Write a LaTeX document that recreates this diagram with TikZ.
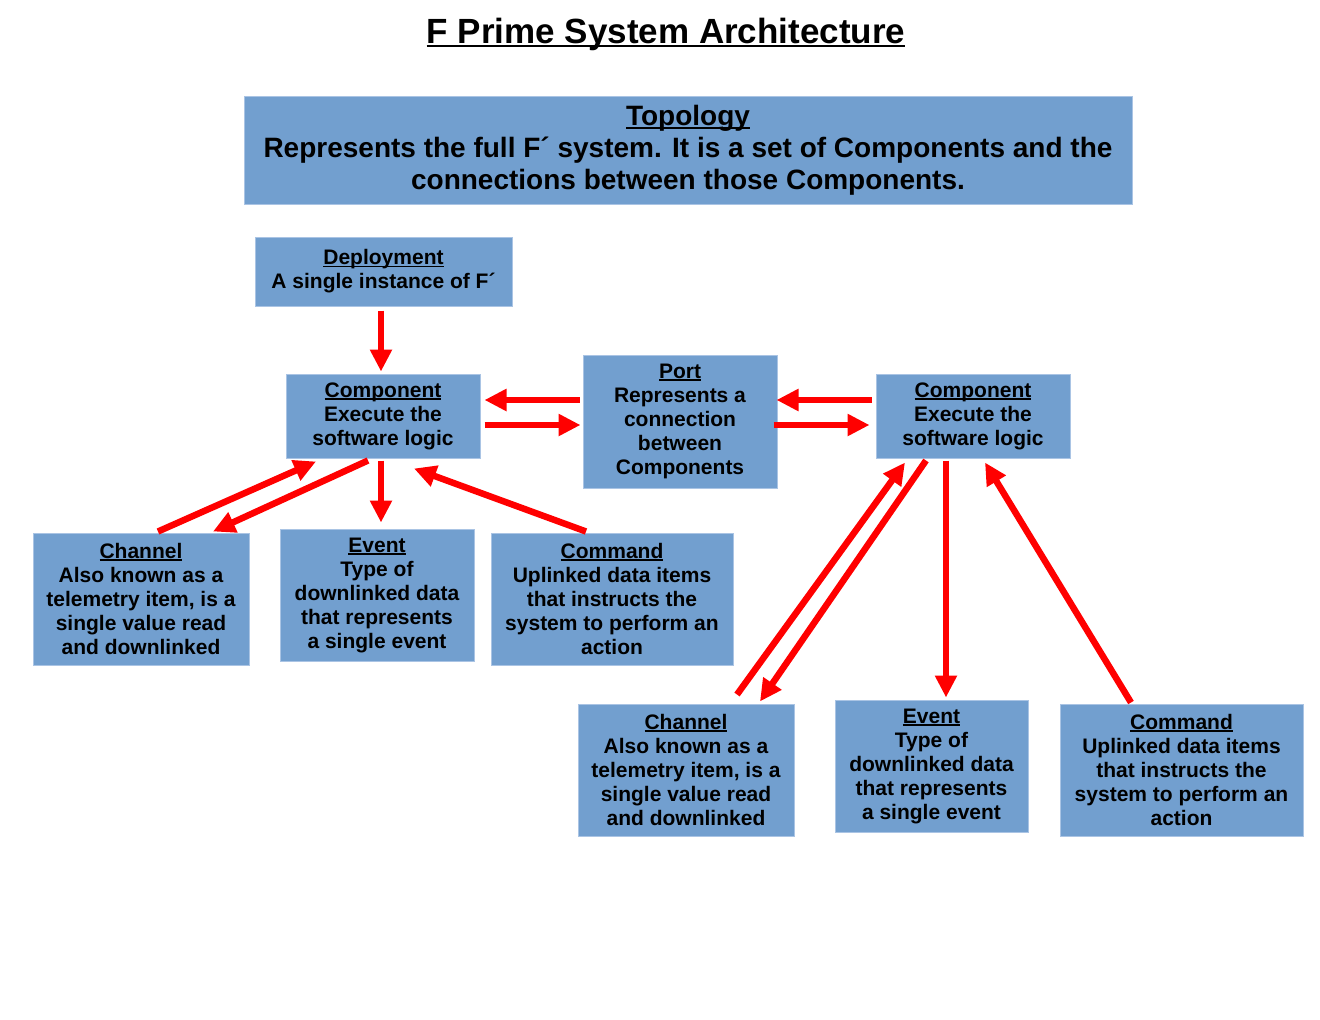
\documentclass[tikz,border=0pt]{standalone}
\usepackage{fontspec}
\setmainfont{Liberation Sans}
\usepackage{tikz}
\usetikzlibrary{positioning, arrows.meta, calc}
\definecolor{boxblue}{HTML}{729FCF}
\definecolor{boxedge}{RGB}{170,196,228}
\newcommand\uhead[1]{\setbox0\hbox{#1}\rlap{\rule[-0.12em]{\wd0}{0.075em}}\box0}

\begin{document}
\begin{tikzpicture}[
  x=1pt, y=-1pt,
  bx/.style={draw=boxedge, line width=1pt, fill=boxblue, align=center, inner sep=0pt,
    font=\fontsize{21}{24}\selectfont\bfseries},
  arr/.style={->, draw=red, line width=6.5pt},
  >={Triangle[length=22pt,width=21pt]},
]
\useasboundingbox (0,0) rectangle (1320,1020);
\node[anchor=base, font=\fontsize{35}{40}\selectfont\bfseries] (title) at (666,43) {\uhead{F Prime System Architecture}};
\node[bx, minimum width=888pt, minimum height=108pt, font=\fontsize{28}{32}\selectfont\bfseries] (topo) at (688,150)
  {\uhead{Topology}\\Represents the full F´ system. It is a set of Components and the\\connections between those Components.};
\node[bx, minimum width=257pt, minimum height=69pt] (dep) at (383.5,271.5) {\uhead{Deployment}\\A single instance of F´};
\node[bx, minimum width=194pt, minimum height=84pt] (cl) at (383,416) {\uhead{Component}\\Execute the\\software logic};
\node[bx, minimum width=194pt, minimum height=133pt] (port) at (680,421.5) {\uhead{Port}\\Represents a\\connection\\between\\Components};
\node[bx, minimum width=194pt, minimum height=84pt] (cr) at (973,416) {\uhead{Component}\\Execute the\\software logic};
% left row
\node[bx, minimum width=216pt, minimum height=132pt] (chl) at (141,599) {\uhead{Channel}\\Also known as a\\telemetry item, is a\\single value read\\and downlinked};
\node[bx, minimum width=194pt, minimum height=132pt] (evl) at (377,595) {\uhead{Event}\\Type of\\downlinked data\\that represents\\a single event};
\node[bx, minimum width=242pt, minimum height=132pt] (cml) at (612,599) {\uhead{Command}\\Uplinked data items\\that instructs the\\system to perform an\\action};
% right row
\node[bx, minimum width=216pt, minimum height=132pt] (chr) at (686,770) {\uhead{Channel}\\Also known as a\\telemetry item, is a\\single value read\\and downlinked};
\node[bx, minimum width=193pt, minimum height=132pt] (evr) at (931.5,766) {\uhead{Event}\\Type of\\downlinked data\\that represents\\a single event};
\node[bx, minimum width=243pt, minimum height=132pt] (cmr) at (1181.5,770) {\uhead{Command}\\Uplinked data items\\that instructs the\\system to perform an\\action};

\draw[arr] ($(dep.south)+(-2.5,4)$) -- ($(cl.north)+(-2,-2)$);
\draw[arr] ($(port.west)+(-3,-21.5)$) -- ($(cl.east)+(4,-16)$);
\draw[arr] ($(cl.east)+(4,9)$) -- ($(port.west)+(-2,3.5)$);
\draw[arr] ($(cr.west)+(-4,-16)$) -- ($(port.east)+(-1,-21.5)$);
\draw[arr] ($(port.east)+(-4,3.5)$) -- ($(cr.west)+(-6,9)$);
\draw[arr] ($(chl.north)+(17,-1)$) -- ($(cl.south)+(-67,3)$);
\draw[arr] ($(cl.south)+(-15,2)$) -- ($(chl.north)+(72,-1)$);
\draw[arr] ($(cl.south)+(-2,2)$) -- ($(evl.north)+(4,-6)$);
\draw[arr] ($(cml.north)+(-26,-1)$) -- ($(cl.south)+(31,10)$);
\draw[arr] ($(chr.north)+(51,-9)$) -- ($(cr.south)+(-68,4)$);
\draw[arr] ($(cr.south)+(-47,2)$) -- ($(chr.north)+(74,-2)$);
\draw[arr] ($(cr.south)+(-27,2)$) -- ($(evr.north)+(14.5,-2)$);
\draw[arr] ($(cmr.north)+(-50.5,-1)$) -- ($(cr.south)+(12,4)$);
\end{tikzpicture}
\end{document}
